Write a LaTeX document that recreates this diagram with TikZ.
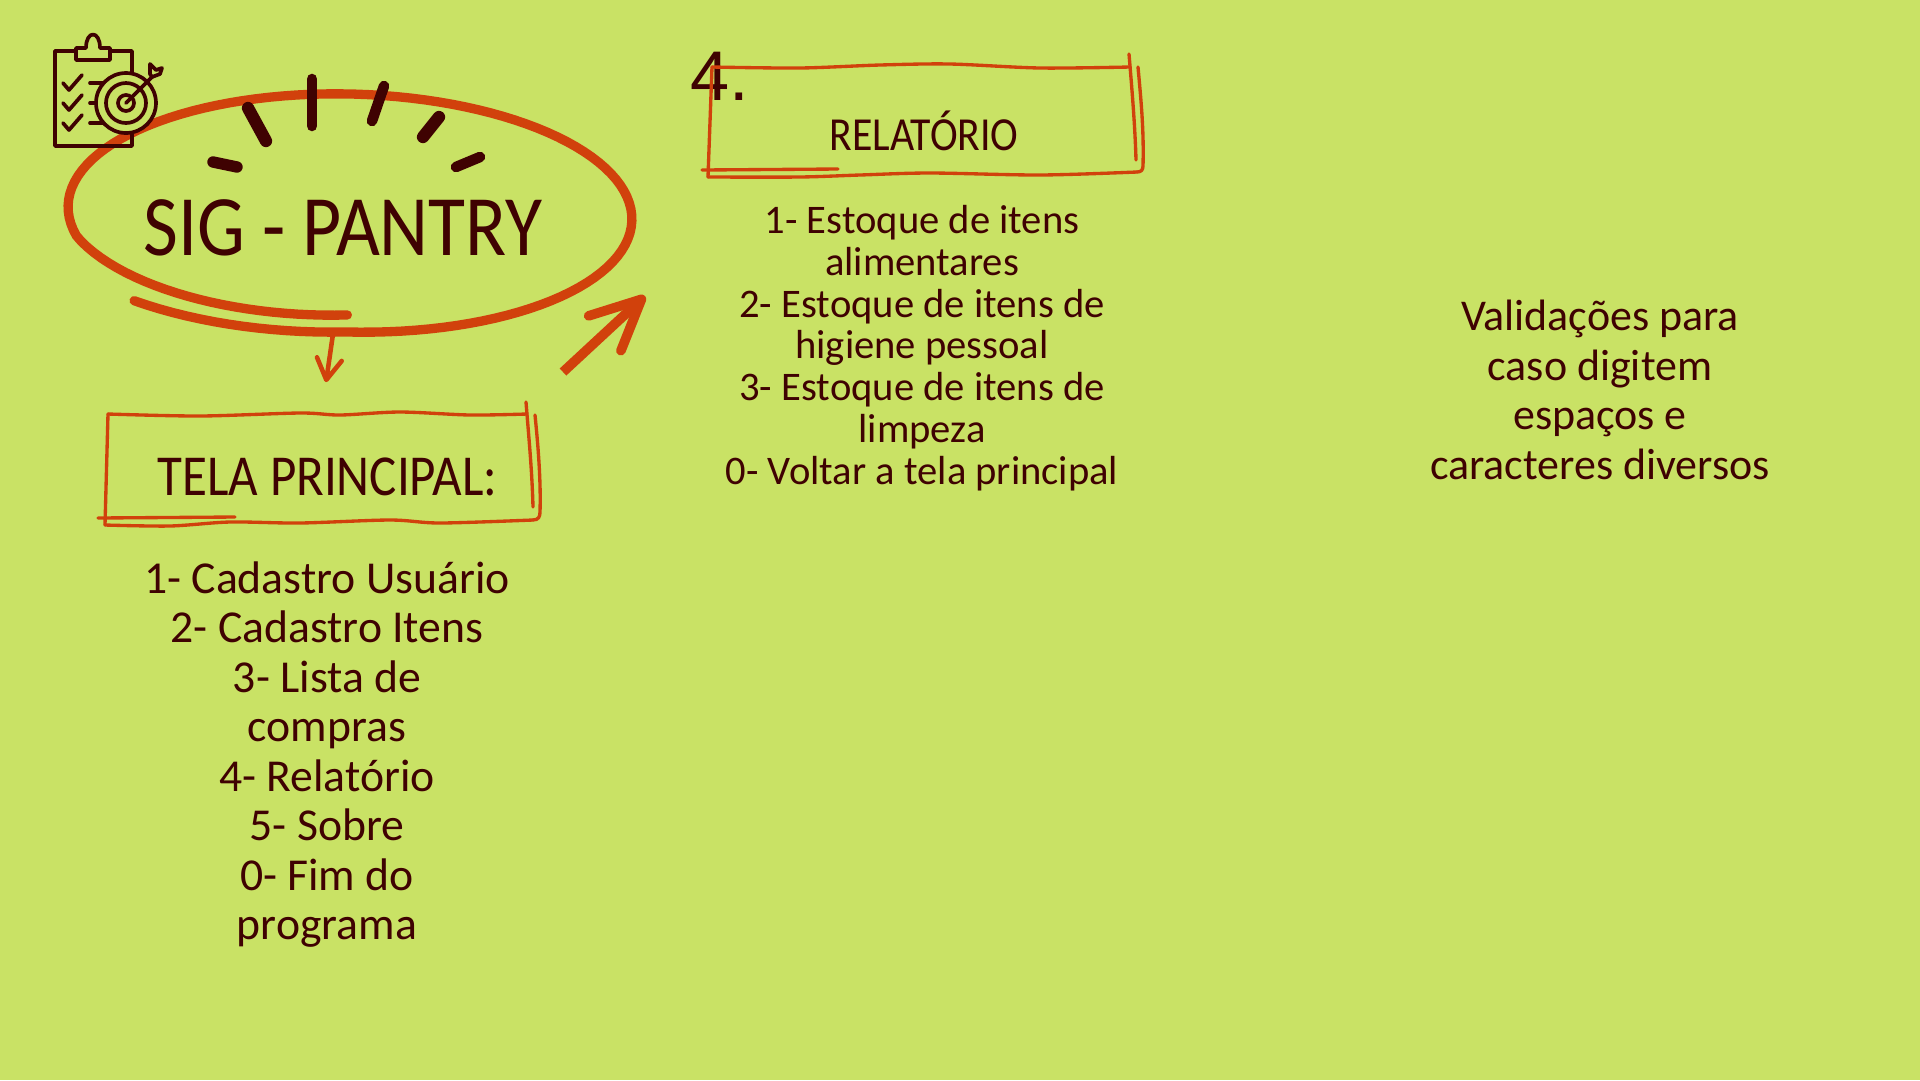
\documentclass[tikz,border=0pt]{standalone}
\usepackage{fontspec}
\setmainfont{Liberation Sans}
\newfontfamily\handfont{Carlito}
\newfontfamily\capsfont[FakeStretch=0.88]{Carlito}
\usetikzlibrary{arrows.meta,shapes.geometric}
\definecolor{bgcolor}{HTML}{C9E265}
\definecolor{brick}{HTML}{D1410C}
\definecolor{maroon}{HTML}{3F0202}
\tikzset{
  boxline/.style={brick,line width=1.9pt,line cap=round,line join=round},
  tick/.style={maroon,line cap=round},
  iconline/.style={maroon,line width=2.1pt,line cap=round,line join=round},
  listtext/.style 2 args={maroon,align=center,inner sep=0pt,font=\handfont\fontsize{#1}{#2}\selectfont},
}
\begin{document}
\begin{tikzpicture}[x=0.02cm,y=-0.02cm,declare function={sigrad(\t)=1-0.143*max(0,(165-\t)/75)+0.09*max(0,(\t-450)/44);}]
  \fill[bgcolor] (0,0) rectangle (1920,1080);
  \useasboundingbox (0,0) rectangle (1920,1080);
  % title
  \node[ellipse,minimum width=11.4cm,minimum height=4.86cm,inner sep=0pt,rotate=-1.5] (pantry) at (350,213.5) {};
  \draw[brick,line width=5.3pt,line cap=round,rotate around={-1.5:(350,213)}] plot[domain=90:494,samples=140] ({350+282*sigrad(\x)*cos(\x)},{213+119*sigrad(\x)*sin(\x)});
  \node[maroon,inner sep=0pt,font=\capsfont\fontsize{49}{49}\selectfont] (title) at (343,228) {SIG - PANTRY};
  \draw[tick,line width=6.5pt] (213,162) -- (237,167);
  \draw[tick,line width=7pt] (248,108) -- (266,141);
  \draw[tick,line width=6pt] (312,79) -- (312,126);
  \draw[tick,line width=6pt] (384,86) -- (372,121);
  \draw[tick,line width=7pt] (439,117) -- (423,137);
  \draw[tick,line width=6pt] (480,157) -- (456,167);
  % icon
  \draw[iconline] (74,51) -- (55,51) -- (55,146) -- (132,146) -- (132,51) -- (112,51);
  \draw[iconline] (76,51) -- (76,60) -- (110,60) -- (110,48) -- (100,48) .. controls (100,30) and (86,30) .. (86,48) -- (76,48) -- (76,51);
  \foreach \y in {75,95,115} {
    \draw[iconline] (63,\y+8) -- (69,\y+15) -- (82,\y);
    \draw[iconline] (90,\y+8) -- (104,\y+8);
  }
  \draw[iconline,fill=bgcolor] (126,103) circle (30);
  \draw[iconline] (126,103) circle (20);
  \draw[iconline] (126,103) circle (8);
  \draw[iconline] (126,103) -- (152,77);
  \draw[iconline] (150,74) -- (150,64) -- (156,70) -- (162,68) -- (160,74) -- (152,77) -- cycle;
  % tela principal
  \node[maroon,inner sep=0pt,minimum width=8.56cm,minimum height=2.22cm,font=\capsfont\fontsize{33}{33}\selectfont] (principal) at (320,470) {\hspace*{0.3cm}\smash{\raisebox{-0.5cm}{TELA PRINCIPAL:}}};
  \draw[boxline] plot[smooth] coordinates {(108,414) (200,416) (300,413) (340,415) (400,412) (470,415) (527,414)};
  \draw[boxline] (108,414) -- (105,525);
  \draw[boxline] plot[smooth] coordinates {(105,525) (170,526) (230,522) (300,523) (390,520) (440,523) (533,520)};
  \draw[boxline] (533,520) .. controls (539,520) and (540,516) .. (540,512) .. controls (541,480) and (538,445) .. (535,415);
  \draw[boxline] (526,402) .. controls (529,440) and (532,470) .. (533,507);
  \draw[boxline] (98,518) -- (235,517);
  \node[listtext={26}{28.2}] (mainlist) at (327,754.5) {1- Cadastro Usuário\\2- Cadastro Itens\\3- Lista de\\compras\\4- Relatório\\5- Sobre\\0- Fim do\\programa};
  % relatorio
  \node[maroon,inner sep=0pt,minimum width=8.7cm,minimum height=2.2cm,font=\capsfont\fontsize{27}{27}\selectfont] (relatorio) at (924,122) {\smash{\raisebox{-0.56cm}{RELATÓRIO}}};
  \node[maroon,inner sep=0pt,font=\fontsize{40}{40}\selectfont] (number) at (720,76) {4.};
  \draw[boxline] plot[smooth] coordinates {(712,67) (800,68) (880,65) (950,64) (1040,68) (1130,67)};
  \draw[boxline] (712,67) -- (708,177);
  \draw[boxline] plot[smooth] coordinates {(708,177) (800,177) (860,175) (930,173) (1040,175) (1137,172)};
  \draw[boxline] (1137,172) .. controls (1141,172) and (1143,170) .. (1143,166) .. controls (1144,130) and (1141,100) .. (1138,67);
  \draw[boxline] (1129,54) .. controls (1132,90) and (1135,125) .. (1136,160);
  \draw[boxline] (702,170) -- (838,169);
  \node[listtext={23.1}{23.8}] (reportlist) at (922,348) {1- Estoque de itens\\alimentares\\2- Estoque de itens de\\higiene pessoal\\3- Estoque de itens de\\limpeza\\0- Voltar a tela principal};
  % validacoes
  \node[listtext={25}{28.2}] (validation) at (1600,390) {Validações para\\caso digitem\\espaços e\\caracteres diversos};
  % arrows
  \coordinate (bigstart) at (563,372);
  \coordinate (bigtip) at (645,296);
  \draw[brick,line width=2.6pt,-{Straight Barb[length=0.42cm,width=0.5cm,line width=2.6pt,round]}] ([xshift=-0.28cm]pantry.south) -- ([xshift=0.12cm,yshift=0.64cm]principal.north);
  \draw[brick,line width=5.5pt,-{Straight Barb[length=1cm,width=0.95cm,line width=5.5pt,round]}] (bigstart) -- (bigtip);
\end{tikzpicture}
\end{document}
